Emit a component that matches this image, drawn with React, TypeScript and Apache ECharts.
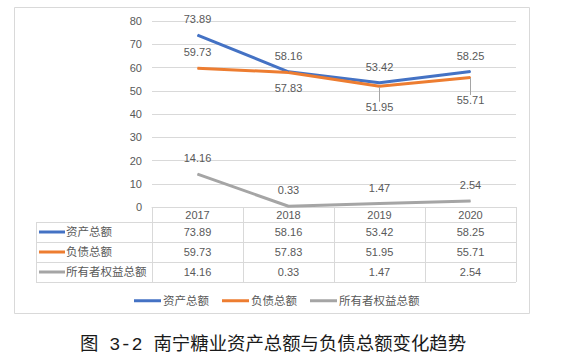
import React, { useEffect, useRef } from "react";
import * as echarts from "echarts";

const categories = ["2017", "2018", "2019", "2020"];
const assets = [73.89, 58.16, 53.42, 58.25];
const liabilities = [59.73, 57.83, 51.95, 55.71];
const equity = [14.16, 0.33, 1.47, 2.54];
const seriesNames = ["资产总额", "负债总额", "所有者权益总额"];
const seriesColors = ["#4472C4", "#ED7D31", "#A5A5A5"];
const yMin = 0;
const yMax = 80;
const yStep = 10;
const caption = "图 3-2 南宁糖业资产总额与负债总额变化趋势";

const FONT = "'Liberation Sans','Noto Sans CJK SC',sans-serif";
const TEXT = "#595959";
const LINE = "#d9d9d9";

export default function App() {
  const ref = useRef<HTMLDivElement>(null);
  useEffect(() => {
    if (!ref.current) return;
    const chart = echarts.init(ref.current, null, { renderer: "svg" });
    const allData = [assets, liabilities, equity];
    const orangeLabel = [
      { position: "top", distance: 10 },
      { position: "bottom", distance: 9 },
      { position: "bottom", distance: 15 },
      { position: "bottom", distance: 17 },
    ];
    const series = allData.map((d, si) => ({
      name: seriesNames[si],
      type: "line",
      symbol: "circle",
      symbolSize: 1,
      showSymbol: true,
      data: d.map((v, i) => {
        if (si === 1) {
          return {
            value: v,
            label: { position: orangeLabel[i].position, distance: orangeLabel[i].distance },
            labelLine: { show: i >= 2 },
          };
        }
        return { value: v };
      }),
      lineStyle: { width: 3, color: seriesColors[si] },
      itemStyle: { color: seriesColors[si] },
      label: {
        show: true,
        position: "top",
        distance: 10,
        color: TEXT,
        fontSize: 11,
        fontFamily: FONT,
      },
      labelLine: { show: false, lineStyle: { color: "#a5a5a5", width: 1 } },
    }));

    chart.setOption({
      animation: false,
      textStyle: { fontFamily: FONT },
      grid: { left: 152, right: 48, top: 21, bottom: 157 },
      xAxis: {
        type: "category",
        data: categories,
        axisLine: { lineStyle: { color: LINE, width: 1 } },
        axisTick: { show: true, length: 75, lineStyle: { color: LINE } },
        axisLabel: { margin: 2, color: TEXT, fontSize: 11, fontFamily: FONT },
      },
      yAxis: {
        type: "value",
        min: yMin,
        max: yMax,
        interval: yStep,
        axisLine: { show: false },
        axisTick: { show: false },
        axisLabel: { margin: 10, color: TEXT, fontSize: 11, fontFamily: FONT },
        splitLine: { lineStyle: { color: LINE } },
      },
      legend: {
        left: 129,
        top: 290,
        icon: "rect",
        itemWidth: 27,
        itemHeight: 3,
        itemGap: 13,
        data: seriesNames,
        textStyle: { color: TEXT, fontSize: 11.5, fontFamily: FONT, padding: [0, 0, 0, -3] },
      },
      series,
    });

    const xs = categories.map((c) => chart.convertToPixel({ xAxisIndex: 0 }, c) as number);
    const band = xs[1] - xs[0];
    const rightEdge = xs[xs.length - 1] + band / 2;
    const axisY = chart.convertToPixel({ yAxisIndex: 0 }, yMin) as number;
    const headerH = 15;
    const rowH = 20;
    const tableLeft = 36;
    const graphics: any[] = [];
    graphics.push({
      type: "rect",
      shape: { x: 14.5, y: 7.5, width: 515, height: 306 },
      style: { fill: "none", stroke: LINE, lineWidth: 1 },
      silent: true,
    });
    for (let r = 0; r <= allData.length; r++) {
      const y = Math.round(axisY + headerH + r * rowH) + 0.5;
      graphics.push({
        type: "line",
        shape: { x1: tableLeft, y1: y, x2: rightEdge, y2: y },
        style: { stroke: LINE, lineWidth: 1 },
        silent: true,
      });
    }
    graphics.push({
      type: "line",
      shape: {
        x1: tableLeft + 0.5,
        y1: Math.round(axisY + headerH) + 0.5,
        x2: tableLeft + 0.5,
        y2: Math.round(axisY + headerH + allData.length * rowH) + 0.5,
      },
      style: { stroke: LINE, lineWidth: 1 },
      silent: true,
    });
    allData.forEach((d, si) => {
      const cy = axisY + headerH + si * rowH + rowH / 2;
      graphics.push({
        type: "rect",
        shape: { x: tableLeft + 3, y: cy - 1.5, width: 26, height: 3 },
        style: { fill: seriesColors[si] },
        silent: true,
      });
      graphics.push({
        type: "text",
        x: tableLeft + 30,
        y: cy,
        style: {
          text: seriesNames[si],
          fill: TEXT,
          fontSize: 11.5,
          fontFamily: FONT,
          verticalAlign: "middle",
          align: "left",
        },
        silent: true,
      });
      d.forEach((v, i) => {
        graphics.push({
          type: "text",
          x: xs[i],
          y: cy,
          style: {
            text: v.toFixed(2),
            fill: TEXT,
            fontSize: 11,
            fontFamily: FONT,
            verticalAlign: "middle",
            align: "center",
          },
          silent: true,
        });
      });
    });
    graphics.push({
      type: "text",
      x: 273,
      y: 345,
      style: {
        text: caption,
        fill: "#1a1a1a",
        fontSize: 18.4,
        fontFamily: "'Liberation Mono','Noto Sans CJK SC',monospace",
        verticalAlign: "middle",
        align: "center",
      },
      silent: true,
    });
    chart.setOption({ graphic: graphics });
    return () => chart.dispose();
  }, []);
  return (
    <div
      ref={ref}
      style={{ position: "fixed", left: 0, top: 0, width: 564, height: 364, background: "#fff" }}
    />
  );
}
